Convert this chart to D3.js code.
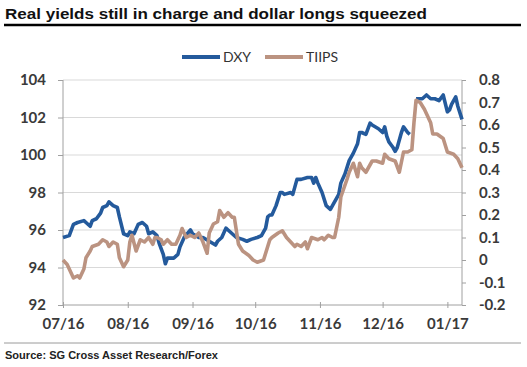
<!DOCTYPE html>
<html><head><meta charset="utf-8">
<script src="https://cdn.jsdelivr.net/npm/d3@7"></script>
<style>body{margin:0;background:#fff}svg{display:block}</style>
</head><body><svg id="c" width="527" height="367"></svg>
<script>
const title = "Real yields still in charge and dollar longs squeezed";
const source = "Source: SG Cross Asset Research/Forex";
const seriesNames = ["DXY", "TIIPS"];
const leftTicks = [92, 94, 96, 98, 100, 102, 104];
const rightTicks = [-0.2, -0.1, 0, 0.1, 0.2, 0.3, 0.4, 0.5, 0.6, 0.7, 0.8];
const monthTicks = ["2016-07-01","2016-08-01","2016-09-01","2016-10-01","2016-11-01","2016-12-01","2017-01-01"];

const dxyDates = ["2016-07-01","2016-07-04","2016-07-06","2016-07-08","2016-07-11","2016-07-12","2016-07-14","2016-07-15","2016-07-17","2016-07-19","2016-07-20","2016-07-22","2016-07-23","2016-07-25","2016-07-27","2016-07-28","2016-07-30",
"2016-08-01","2016-08-02","2016-08-04","2016-08-06","2016-08-08","2016-08-10","2016-08-11","2016-08-13","2016-08-15","2016-08-16","2016-08-18","2016-08-19","2016-08-20","2016-08-23","2016-08-25","2016-08-26","2016-08-28","2016-08-31",
"2016-09-01","2016-09-04","2016-09-06","2016-09-09","2016-09-12","2016-09-13","2016-09-15","2016-09-17","2016-09-18","2016-09-20","2016-09-22","2016-09-25","2016-09-27","2016-09-29",
"2016-10-02","2016-10-04","2016-10-06","2016-10-07","2016-10-08","2016-10-09","2016-10-11","2016-10-13","2016-10-14","2016-10-15","2016-10-18","2016-10-19","2016-10-21","2016-10-23","2016-10-26","2016-10-28","2016-10-29","2016-10-30","2016-10-31",
"2016-11-02","2016-11-04","2016-11-06","2016-11-07","2016-11-10","2016-11-11","2016-11-13","2016-11-15","2016-11-17","2016-11-19","2016-11-20","2016-11-21","2016-11-23","2016-11-25","2016-11-26","2016-11-29",
"2016-12-01","2016-12-02","2016-12-03","2016-12-04","2016-12-06","2016-12-07","2016-12-08","2016-12-10","2016-12-11","2016-12-13","2016-12-14","2016-12-15","2016-12-17","2016-12-20","2016-12-22","2016-12-24","2016-12-26","2016-12-28","2016-12-30",
"2017-01-01","2017-01-02","2017-01-03","2017-01-05","2017-01-06","2017-01-08"];
const dxyValues = [95.6,95.7,96.3,96.4,96.5,96.4,96.2,96.5,96.6,96.9,97.2,97.3,97.5,97.3,97.2,96.7,95.8,
95.7,95.9,95.8,96.3,96.4,96.2,95.8,95.9,95.7,95.3,94.7,94.2,94.5,94.5,94.7,95.1,95.6,96.0,
95.8,95.6,95.6,95.4,95.2,95.4,95.6,96.1,96.0,95.8,95.6,95.5,95.4,95.5,
95.6,95.7,96.1,96.7,96.8,96.8,97.3,98.0,98.0,97.9,98.0,97.9,98.7,98.7,98.8,98.8,98.5,98.8,98.5,
98.0,97.3,97.1,97.3,97.9,98.5,99.0,99.7,100.1,100.6,101.2,101.2,101.1,101.7,101.6,101.4,
101.2,101.5,101.0,100.7,100.4,100.2,100.4,101.2,101.5,101.2,101.1,null,103.0,103.0,103.2,103.0,103.0,102.9,103.2,
102.3,102.4,102.7,103.1,102.6,101.9];

const tipsDates = ["2016-07-01","2016-07-03","2016-07-04","2016-07-06","2016-07-08","2016-07-09","2016-07-11","2016-07-12","2016-07-14","2016-07-15","2016-07-18","2016-07-20","2016-07-22","2016-07-23","2016-07-25","2016-07-27","2016-07-28","2016-07-30",
"2016-08-01","2016-08-02","2016-08-03","2016-08-05","2016-08-07","2016-08-09","2016-08-11","2016-08-13","2016-08-14","2016-08-15","2016-08-17","2016-08-18","2016-08-20","2016-08-22","2016-08-24","2016-08-26","2016-08-27","2016-08-29","2016-08-31",
"2016-09-02","2016-09-04","2016-09-06","2016-09-08","2016-09-09","2016-09-11","2016-09-13","2016-09-14","2016-09-16","2016-09-18","2016-09-20","2016-09-21","2016-09-23","2016-09-25","2016-09-28","2016-09-30",
"2016-10-02","2016-10-05","2016-10-07","2016-10-08","2016-10-09","2016-10-12","2016-10-14","2016-10-16","2016-10-19","2016-10-20","2016-10-21","2016-10-23","2016-10-25","2016-10-26","2016-10-28","2016-10-31",
"2016-11-02","2016-11-03","2016-11-05","2016-11-07","2016-11-08","2016-11-10","2016-11-11","2016-11-14","2016-11-15","2016-11-17","2016-11-19","2016-11-20","2016-11-21","2016-11-23","2016-11-26","2016-11-28",
"2016-12-01","2016-12-02","2016-12-04","2016-12-07","2016-12-09","2016-12-11","2016-12-13","2016-12-15","2016-12-16","2016-12-17","2016-12-19","2016-12-21","2016-12-24","2016-12-25","2016-12-27","2016-12-30",
"2017-01-01","2017-01-04","2017-01-06","2017-01-08"];
const tipsValues = [0.00,-0.02,-0.04,-0.08,-0.07,-0.08,-0.04,0.01,0.04,0.06,0.07,0.09,0.08,0.06,0.08,0.07,0.01,-0.03,
0.00,0.08,0.11,0.04,0.09,0.08,0.10,0.07,0.10,0.10,0.09,0.07,0.09,0.07,0.07,0.11,0.14,0.10,0.11,
0.10,0.12,0.08,0.03,0.12,0.16,0.17,0.22,0.19,0.21,0.19,0.19,0.07,0.04,0.02,0.00,
-0.01,0.00,0.06,0.09,0.10,0.12,0.13,0.10,0.07,0.06,0.07,0.06,0.08,0.05,0.10,0.09,
0.10,0.09,0.11,0.10,0.10,0.19,0.28,0.36,0.39,0.43,0.37,0.43,0.41,0.39,0.44,0.44,
0.43,0.47,0.45,0.44,0.39,0.48,0.48,0.49,0.61,0.71,0.70,0.67,0.61,0.56,0.56,0.54,
0.48,0.47,0.45,0.41];

const xStart = "2016-07-01", xEnd = "2017-01-08";

const parse = d3.timeParse("%Y-%m-%d");
const svg = d3.select("#c");
const M = {l: 63, r: 462, t: 80, b: 305};
const colors = {DXY: "#245a9c", TIIPS: "#bb9381"};
const fontAxis = "Lato, 'Open Sans', sans-serif";

const x = d3.scaleTime().domain([parse(xStart), parse(xEnd)]).range([M.l, M.r]);
const yL = d3.scaleLinear().domain([92, 104]).range([M.b, M.t]);
const yR = d3.scaleLinear().domain([-0.2, 0.8]).range([M.b, M.t]);

// Title
svg.append("text").attr("x", 5).attr("y", 19)
  .attr("font-family", "'Liberation Sans', Arial, sans-serif").attr("font-weight", "bold")
  .attr("font-size", 15).attr("fill", "#111").attr("textLength", 422).attr("lengthAdjust", "spacingAndGlyphs")
  .text(title);
svg.append("line").attr("x1", 4).attr("x2", 521).attr("y1", 25).attr("y2", 25)
  .attr("stroke", "#000").attr("stroke-width", 2.6);

// gridlines
svg.append("g").selectAll("line").data(leftTicks.slice(1)).join("line")
  .attr("x1", M.l).attr("x2", M.r).attr("y1", d => yL(d)).attr("y2", d => yL(d))
  .attr("stroke", "#d9d9d9").attr("stroke-width", 1);

// Left axis
const gL = svg.append("g").attr("transform", `translate(${M.l},0)`)
  .call(d3.axisLeft(yL).tickValues(leftTicks).tickSize(5).tickPadding(12).tickFormat(d3.format("d")));
// Right axis
const gR = svg.append("g").attr("transform", `translate(${M.r},0)`)
  .call(d3.axisRight(yR).tickValues(rightTicks).tickSize(4).tickPadding(13).tickFormat(d => d3.format(".1f")(d).replace(/^0\.0$/, "0").replace("−", "-")));
gR.selectAll(".tick text").text(d => d === 0 ? "0" : String(d));
// Bottom axis
const gB = svg.append("g").attr("transform", `translate(0,${M.b})`)
  .call(d3.axisBottom(x).tickValues(monthTicks.map(parse)).tickSize(3).tickPadding(10).tickFormat(d3.timeFormat("%m/%y")));
gB.selectAll(".tick line").attr("y1", -3);

[gL, gR, gB].forEach(g => {
  g.select(".domain").attr("stroke", "#a0a0a0").attr("stroke-width", 1);
  g.selectAll(".tick line").attr("stroke", "#a0a0a0");
  g.selectAll(".tick text").attr("font-family", fontAxis).attr("font-size", 15)
    .attr("fill", "#3a3a3a").attr("font-weight", "bold");
});
gL.select(".domain").attr("d", `M0,${M.t}V${M.b}`);
gR.select(".domain").attr("d", `M0,${M.t}V${M.b}`);
gB.select(".domain").attr("d", `M${M.l},0H${M.r}`);

// Lines
const dxy = dxyDates.map((d, i) => ({date: parse(d), v: dxyValues[i]}));
const tips = tipsDates.map((d, i) => ({date: parse(d), v: tipsValues[i]}));
const lineL = d3.line().defined(d => d.v != null).x(d => x(d.date)).y(d => yL(d.v));
const lineR = d3.line().defined(d => d.v != null).x(d => x(d.date)).y(d => yR(d.v));
svg.append("path").datum(dxy).attr("d", lineL).attr("fill", "none")
  .attr("stroke", colors.DXY).attr("stroke-width", 3.6).attr("stroke-linejoin", "round");
svg.append("path").datum(tips).attr("d", lineR).attr("fill", "none")
  .attr("stroke", colors.TIIPS).attr("stroke-width", 3.6).attr("stroke-linejoin", "round");

// Legend
const legend = [{name: seriesNames[0], x: 182}, {name: seriesNames[1], x: 265}];
const lg = svg.append("g").selectAll("g").data(legend).join("g");
lg.append("line").attr("x1", d => d.x).attr("x2", d => d.x + 38).attr("y1", 57).attr("y2", 57)
  .attr("stroke", d => colors[d.name]).attr("stroke-width", 4);
lg.append("text").attr("x", d => d.x + 41).attr("y", 62).text(d => d.name)
  .attr("font-family", fontAxis).attr("font-size", 14).attr("fill", "#333");

// Source
svg.append("line").attr("x1", 4).attr("x2", 521).attr("y1", 343).attr("y2", 343)
  .attr("stroke", "#9a9a9a").attr("stroke-width", 1);
svg.append("text").attr("x", 5).attr("y", 359)
  .attr("font-family", "'Liberation Sans', Arial, sans-serif").attr("font-weight", "bold")
  .attr("font-size", 10.5).attr("fill", "#222").attr("textLength", 213).attr("lengthAdjust", "spacingAndGlyphs")
  .text(source);
</script></body></html>
